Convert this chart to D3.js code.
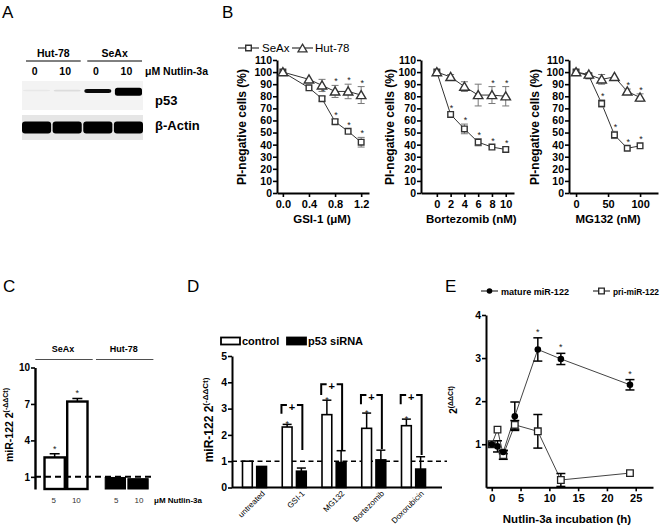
<!DOCTYPE html>
<html><head><meta charset="utf-8">
<script src="https://cdn.jsdelivr.net/npm/d3@7"></script>
<style>body{margin:0;background:#fff} svg{display:block} text{font-family:"Liberation Sans",Arial,sans-serif}</style>
</head><body><svg id="c" width="662" height="530"></svg>
<script>
// ================= DATA =================
// Panel A (western blot, relative band signal)
const blotLanes = ["0","10","0","10"];
const blotGroups = ["Hut-78","SeAx"];
const blotGroupLanes = [[0,1],[2,3]];
const p53Signal = [0.02,0.04,0.4,1.0];
const actinSignal = [1,1,1,1];

// Panel B
const gsiDose = [0,0.4,0.6,0.8,1.0,1.2];
const gsiSeAx = [100,87,78,59,51,42];
const gsiSeAxErr = [1,1,2,2,1,4];
const gsiHut = [100,94,89,84,84,81];
const gsiHutErr = [1,1,5,5,6,7];
const gsiSeAxStar = [0,0,1,1,1,1];
const gsiHutStar = [0,0,0,1,1,1];

const bortDose = [0,2,4,6,8,10];
const bortSeAx = [100,65,53,42,38,36];
const bortSeAxErr = [1,1,4,3,1,2];
const bortHut = [100,96,88,81,81,80];
const bortHutErr = [1,2,4,9,7,8];
const bortSeAxStar = [0,1,1,1,1,1];
const bortHutStar = [0,0,0,0,1,1];

const mgDose = [0,20,40,60,80,100];
const mgSeAx = [100,97,74,48,37,39];
const mgSeAxErr = [1,1,3,3,1,1];
const mgHut = [100,98,94,96,84,79];
const mgHutErr = [1,1,4,1,2,3];
const mgSeAxStar = [0,0,1,1,1,1];
const mgHutStar = [0,0,0,0,1,1];

// Panel C
const cGroups = ["SeAx","Hut-78"];
const cDoses = ["5","10"];
const cValues = [[2.6,7.2],[0.95,0.85]];
const cErr = [[0.3,0.25],[0,0]];
const cStar = [[1,1],[0,0]];
const cTicks = [1,4,7,10];

// Panel D
const dCategories = ["untreated","GSI-1","MG132","Bortezomib","Doxorubicin"];
const dControl = [1.0,2.3,2.77,2.25,2.35];
const dControlErr = [0,0.1,0.55,0.58,0.25];
const dSiRNA = [0.8,0.62,0.95,1.05,0.7];
const dSiRNAErr = [0.02,0.12,0.45,0.37,0.47];
const dStar = [0,1,1,1,1];
const dBracketTop = [null,3.14,3.93,3.52,3.52];
const dBracketLeft = [null,2.8,3.52,3.17,3.17];
const dBracketRight = [null,1.43,1.39,1.46,1.24];
const dTicks = [0,1,2,3,4,5];

// Panel E
const eTime = [0,1,2,4,8,12,24];
const eMature = [1.0,0.95,0.82,1.65,3.2,2.98,2.38];
const eMatureErr = [0,0.13,0.04,0.33,0.27,0.13,0.12];
const ePri = [1.0,1.34,0.75,1.45,1.3,0.17,0.33];
const ePriErr = [0,0.02,0.1,0.1,0.39,0.15,0.02];
const eStar = [0,0,0,0,1,1,1];
const eXTicks = [0,5,10,15,20,25];
const eYTicks = [1,2,3,4];

// ================= DRAW =================
const svg = d3.select("#c");
svg.append("rect").attr("width",662).attr("height",530).attr("fill","#fff");
const defs = svg.append("defs");
defs.append("filter").attr("id","blur").append("feGaussianBlur").attr("stdDeviation",0.7);

function letter(t,x,y){ svg.append("text").attr("x",x).attr("y",y).attr("font-size",17).text(t); }
letter("A",2,18); letter("B",222,18); letter("C",3,292); letter("D",187,292); letter("E",445,292);

function styleAxis(g, fs, bold, family){
  g.select(".domain").attr("stroke","#000").attr("stroke-width",2);
  g.selectAll(".tick line").attr("stroke","#000").attr("stroke-width",1.6);
  g.selectAll(".tick text").attr("font-size",fs).attr("font-weight",bold?"bold":"normal").attr("fill","#000")
    .attr("font-family", family || '"Liberation Sans", Arial, sans-serif');
}
function star(g,x,y,fs){ g.append("text").attr("x",x).attr("y",y).attr("text-anchor","middle").attr("font-size",fs||9).attr("fill","#222").text("*"); }
function rotLabel(x,y,main,sup,fs,sfs,weight){
  const t = svg.append("text").attr("transform",`translate(${x},${y}) rotate(-90)`).attr("text-anchor","middle")
    .attr("font-size",fs).attr("font-weight",weight||"bold");
  t.append("tspan").text(main);
  if(sup) t.append("tspan").attr("font-size",sfs).attr("dy",-fs*0.45).text(sup);
}
const fmtInt = d3.format("d");

// ---------- Panel A ----------
(function(){
  const g = svg.append("g");
  const lane = d3.scaleBand().domain(d3.range(blotLanes.length)).range([22,143]).paddingInner(0.05);
  g.append("rect").attr("x",22).attr("y",81).attr("width",121).attr("height",29).attr("fill","#f3f3f3");
  g.append("rect").attr("x",22).attr("y",115).attr("width",121).attr("height",25).attr("fill","#e6e6e6");
  const bands = g.append("g").attr("filter","url(#blur)");
  bands.selectAll(".p53").data(p53Signal).join("rect")
    .attr("x",(d,i)=>lane(i)+1).attr("width",lane.bandwidth()-2)
    .attr("y",(d,i)=>90.5+d*1.2-(1.5+6.5*d)/2).attr("height",d=>1.5+6.5*d).attr("rx",2.5)
    .attr("fill","#000").attr("opacity",d=>Math.min(1,d*2.4));
  bands.selectAll(".act").data(actinSignal).join("rect")
    .attr("x",(d,i)=>lane(i)).attr("width",lane.bandwidth())
    .attr("y",d=>127.5-6*d).attr("height",d=>12*d).attr("rx",3)
    .attr("fill","#050505");
  g.selectAll(".ln").data(blotLanes).join("text")
    .attr("x",(d,i)=>lane(i)+lane.bandwidth()/2-2).attr("y",75).attr("text-anchor","middle")
    .attr("font-size",10.5).attr("font-weight","bold").text(d=>d);
  blotGroups.forEach((name,gi)=>{
    const ls = blotGroupLanes[gi];
    const a = lane(ls[0])+4, b = lane(ls[ls.length-1])+lane.bandwidth()-1;
    g.append("line").attr("x1",a).attr("x2",b).attr("y1",61).attr("y2",61).attr("stroke","#000").attr("stroke-width",1);
    g.append("text").attr("x",(a+b)/2).attr("y",57).attr("text-anchor","middle").attr("font-size",10.5).attr("font-weight","bold").text(name);
  });
  g.append("text").attr("x",145).attr("y",75).attr("font-size",10.5).attr("font-weight","bold").text("\u03bcM Nutlin-3a");
  g.append("text").attr("x",155).attr("y",105).attr("font-size",13).attr("font-weight","bold").text("p53");
  g.append("text").attr("x",155).attr("y",130).attr("font-size",13).attr("font-weight","bold").text("\u03b2-Actin");
})();

// ---------- Panel B ----------
const bPanels = [
  {x0:277,xEnd:369,xDomain:[-0.09,1.32],xTicks:[0,0.4,0.8,1.2],fmt:".1f",title:"GSI-1 (\u03bcM)",yTitleX:246,
   dose:gsiDose,seax:gsiSeAx,seaxErr:gsiSeAxErr,hut:gsiHut,hutErr:gsiHutErr,seaxStar:gsiSeAxStar,hutStar:gsiHutStar},
  {x0:421,xEnd:514,xDomain:[-2.3,11.2],xTicks:[0,2,4,6,8,10],fmt:"d",title:"Bortezomib (nM)",yTitleX:394,
   dose:bortDose,seax:bortSeAx,seaxErr:bortSeAxErr,hut:bortHut,hutErr:bortHutErr,seaxStar:bortSeAxStar,hutStar:bortHutStar},
  {x0:569,xEnd:658,xDomain:[-11,128],xTicks:[0,50,100],fmt:"d",title:"MG132 (nM)",yTitleX:539,
   dose:mgDose,seax:mgSeAx,seaxErr:mgSeAxErr,hut:mgHut,hutErr:mgHutErr,seaxStar:mgSeAxStar,hutStar:mgHutStar}
];
const bY = d3.scaleLinear().domain([0,110]).range([193,60]);
const sqPath = s=>`M${-s},${-s}H${s}V${s}H${-s}Z`;
const triPath = s=>`M0,${-s}L${s*1.05},${s*0.8}L${-s*1.05},${s*0.8}Z`;
bPanels.forEach(p=>{
  const g = svg.append("g");
  const x = d3.scaleLinear().domain(p.xDomain).range([p.x0,p.xEnd]);
  const gy = g.append("g").attr("transform",`translate(${p.x0},0)`)
    .call(d3.axisLeft(bY).tickValues(d3.range(0,111,10)).tickSize(4).tickPadding(1).tickSizeOuter(0));
  styleAxis(gy,10.5,true);
  const gx = g.append("g").attr("transform",`translate(0,${bY(0)})`)
    .call(d3.axisBottom(x).tickValues(p.xTicks).tickFormat(d3.format(p.fmt)).tickSize(4).tickPadding(3).tickSizeOuter(0));
  styleAxis(gx,11,true);
  g.append("text").attr("x",(x(p.xTicks[0])+x(p.xTicks[p.xTicks.length-1]))/2).attr("y",223).attr("text-anchor","middle")
    .attr("font-size",11.5).attr("font-weight","bold").text(p.title);
  rotLabel(p.yTitleX,127,"PI-negative cells (%)",null,12,0,"bold");
  const line = d3.line().x((d,i)=>x(p.dose[i])).y(d=>bY(d));
  [[p.seax,p.seaxErr,p.seaxStar,"sq"],[p.hut,p.hutErr,p.hutStar,"tri"]].forEach(([vals,errs,stars,shape])=>{
    g.append("path").attr("d",line(vals)).attr("fill","none").attr("stroke","#333").attr("stroke-width",1);
    vals.forEach((v,i)=>{
      const cx = x(p.dose[i]);
      if(errs[i]>1){
        g.append("line").attr("x1",cx).attr("x2",cx).attr("y1",bY(v-errs[i])).attr("y2",bY(v+errs[i])).attr("stroke","#777").attr("stroke-width",1);
        [v-errs[i],v+errs[i]].forEach(e=>g.append("line").attr("x1",cx-3.5).attr("x2",cx+3.5).attr("y1",bY(e)).attr("y2",bY(e)).attr("stroke","#777").attr("stroke-width",1));
      }
    });
    g.selectAll(null).data(vals).join("path")
      .attr("transform",(d,i)=>`translate(${x(p.dose[i])},${bY(d)})`)
      .attr("d",shape==="sq"?sqPath(2.8):triPath(4.5))
      .attr("fill","#fff").attr("stroke","#333").attr("stroke-width",1.4);
    vals.forEach((v,i)=>{ if(stars[i]){ const top = bY(v+Math.max(errs[i],2)); star(g,x(p.dose[i])+1,top-1,9); }});
  });
});
// Legend B
(function(){
  const g = svg.append("g");
  g.append("line").attr("x1",238).attr("x2",259).attr("y1",48).attr("y2",48).attr("stroke","#333").attr("stroke-width",1.2);
  g.append("path").attr("transform","translate(248.5,48)").attr("d",sqPath(2.8)).attr("fill","#fff").attr("stroke","#333").attr("stroke-width",1.4);
  g.append("text").attr("x",262).attr("y",52).attr("font-size",11.5).text("SeAx");
  g.append("line").attr("x1",292).attr("x2",313).attr("y1",48).attr("y2",48).attr("stroke","#333").attr("stroke-width",1.2);
  g.append("path").attr("transform","translate(302.5,48.5)").attr("d",triPath(4.3)).attr("fill","#fff").attr("stroke","#333").attr("stroke-width",1.3);
  g.append("text").attr("x",315).attr("y",52).attr("font-size",11.5).text("Hut-78");
})();

// ---------- Panel C ----------
(function(){
  const g = svg.append("g");
  const y = d3.scaleLinear().domain([0,10]).range([489,367.5]);
  const gx = d3.scaleBand().domain(cGroups).range([35,157.7]).paddingInner(0.252).paddingOuter(0.137);
  const ix = d3.scaleBand().domain(cDoses).range([0,gx.bandwidth()]).paddingInner(0);
  cGroups.forEach((grp,gi)=>{
    const a = gx(grp), bw = gx.bandwidth();
    g.append("line").attr("x1",a-8).attr("x2",a+bw+4).attr("y1",359.5).attr("y2",359.5).attr("stroke","#222").attr("stroke-width",0.8);
    g.append("text").attr("x",a+bw/2-3).attr("y",352).attr("text-anchor","middle").attr("font-size",9).attr("font-weight","bold").text(grp);
    cDoses.forEach((d,di)=>{
      const v = cValues[gi][di], e = cErr[gi][di], bx = a+ix(d), w = ix.bandwidth();
      const filled = gi===1;
      if(e>0){
        g.append("line").attr("x1",bx+w/2).attr("x2",bx+w/2).attr("y1",y(v)).attr("y2",y(v+e)).attr("stroke","#000").attr("stroke-width",1.5);
        g.append("line").attr("x1",bx+w/2-5).attr("x2",bx+w/2+5).attr("y1",y(v+e)).attr("y2",y(v+e)).attr("stroke","#000").attr("stroke-width",1.5);
      }
      g.append("rect").attr("x",bx+1.2).attr("y",y(v)).attr("width",w-2.4).attr("height",y(0)-y(v))
        .attr("fill",filled?"#000":"#fff").attr("stroke","#000").attr("stroke-width",filled?1:2.4);
      if(cStar[gi][di]) star(g,bx+w/2,y(v+e)-2,9);
      g.append("text").attr("x",bx+w/2+(filled?1:-1)).attr("y",503).attr("text-anchor","middle").attr("font-size",8).attr("fill","#333").text(d);
    });
  });
  g.append("text").attr("x",154).attr("y",503).attr("font-size",8).attr("font-weight","bold").text("\u03bcM Nutlin-3a");
  g.append("line").attr("x1",35).attr("x2",153).attr("y1",y(1)).attr("y2",y(1)).attr("stroke","#000").attr("stroke-width",2).attr("stroke-dasharray","6,4");
  const ga = g.append("g").attr("transform","translate(35,0)").call(d3.axisLeft(y).tickValues(cTicks).tickFormat(fmtInt).tickSize(4).tickPadding(1).tickSizeOuter(0));
  styleAxis(ga,10,true,'"Liberation Serif", "Times New Roman", serif');
  ga.select(".domain").attr("stroke-width",2.4);
  rotLabel(13,425,"miR-122 2","(-\u0394\u0394Ct)",10.5,7,"bold");
})();

// ---------- Panel D ----------
(function(){
  const g = svg.append("g");
  const y = d3.scaleLinear().domain([0,5]).range([487.5,356]);
  const gx = d3.scaleBand().domain(dCategories).range([232,436]).paddingInner(0.356).paddingOuter(0.244);
  const ix = d3.scaleBand().domain(["control","p53 siRNA"]).range([0,gx.bandwidth()]).paddingInner(0.2);
  g.append("line").attr("x1",232).attr("x2",447).attr("y1",y(1)).attr("y2",y(1)).attr("stroke","#000").attr("stroke-width",1.6).attr("stroke-dasharray","5,3.5");
  dCategories.forEach((c,i)=>{
    const a = gx(c), w = ix.bandwidth();
    [[dControl[i],dControlErr[i],"control",false],[dSiRNA[i],dSiRNAErr[i],"p53 siRNA",true]].forEach(([v,e,k,filled])=>{
      const bx = a+ix(k);
      if(e>0.03){
        g.append("line").attr("x1",bx+w/2).attr("x2",bx+w/2).attr("y1",y(v)).attr("y2",y(v+e)).attr("stroke","#000").attr("stroke-width",1.5);
        g.append("line").attr("x1",bx+w/2-4.5).attr("x2",bx+w/2+4.5).attr("y1",y(v+e)).attr("y2",y(v+e)).attr("stroke","#000").attr("stroke-width",1.5);
      }
      g.append("rect").attr("x",bx+0.8).attr("y",y(v)).attr("width",w-1.6).attr("height",y(0)-y(v))
        .attr("fill",filled?"#000":"#fff").attr("stroke","#000").attr("stroke-width",1.6);
    });
    if(dStar[i]) star(g,a+ix("control")+w/2,y(dControl[i]+dControlErr[i])+3,9);
    if(dBracketTop[i]!=null){
      const lx = a+ix("control"), rx = a+ix("p53 siRNA")+w/2+1, mid=(lx+rx)/2, ty=y(dBracketTop[i]);
      const st = {stroke:"#000","stroke-width":2,fill:"none"};
      const p1 = g.append("path").attr("d",`M${lx},${y(dBracketLeft[i])}V${ty}H${mid-5}`);
      const p2 = g.append("path").attr("d",`M${mid+5},${ty}H${rx}V${y(dBracketRight[i])}`);
      [p1,p2].forEach(p=>Object.entries(st).forEach(([k,v])=>p.attr(k,v)));
      g.append("text").attr("x",mid).attr("y",ty+6).attr("text-anchor","middle").attr("font-size",11).attr("font-weight","bold").text("+");
    }
    g.append("text").attr("transform",`translate(${a+gx.bandwidth()/2+11},${494}) rotate(-45)`).attr("text-anchor","end")
      .attr("font-size",8).text(c);
  });
  g.append("line").attr("x1",232).attr("x2",442).attr("y1",y(0)).attr("y2",y(0)).attr("stroke","#000").attr("stroke-width",2);
  const ga = g.append("g").attr("transform","translate(232,0)").call(d3.axisLeft(y).tickValues(dTicks).tickFormat(fmtInt).tickSize(4).tickPadding(1).tickSizeOuter(0));
  styleAxis(ga,10.5,true);
  rotLabel(213,420,"miR-122 2","(-\u0394\u0394Ct)",12,8,"bold");
  // legend
  g.append("rect").attr("x",221).attr("y",337.5).attr("width",19).attr("height",7).attr("fill","#fff").attr("stroke","#000").attr("stroke-width",1.8);
  g.append("text").attr("x",242).attr("y",345).attr("font-size",11).attr("font-weight","bold").text("control");
  g.append("rect").attr("x",287).attr("y",337.5).attr("width",19).attr("height",7).attr("fill","#000").attr("stroke","#000").attr("stroke-width",1.8);
  g.append("text").attr("x",308).attr("y",345).attr("font-size",11).attr("font-weight","bold").text("p53 siRNA");
})();

// ---------- Panel E ----------
(function(){
  const g = svg.append("g");
  const x = d3.scaleLinear().domain([-1,28]).range([486,653]);
  const y = d3.scaleLinear().domain([0,4]).range([487.3,315]);
  const line = d3.line().x((d,i)=>x(eTime[i])).y(d=>y(d));
  function errBars(vals,errs){
    vals.forEach((v,i)=>{
      if(errs[i]<0.03) return;
      const cx = x(eTime[i]);
      g.append("line").attr("x1",cx).attr("x2",cx).attr("y1",y(v-errs[i])).attr("y2",y(v+errs[i])).attr("stroke","#000").attr("stroke-width",1.5);
      [v-errs[i],v+errs[i]].forEach(e=>g.append("line").attr("x1",cx-4.5).attr("x2",cx+4.5).attr("y1",y(e)).attr("y2",y(e)).attr("stroke","#000").attr("stroke-width",1.5));
    });
  }
  g.append("path").attr("d",line(ePri)).attr("fill","none").attr("stroke","#444").attr("stroke-width",1);
  g.append("path").attr("d",line(eMature)).attr("fill","none").attr("stroke","#444").attr("stroke-width",1);
  errBars(ePri,ePriErr); errBars(eMature,eMatureErr);
  g.selectAll(".pri").data(ePri).join("path").attr("transform",(d,i)=>`translate(${x(eTime[i])},${y(d)})`)
    .attr("d",sqPath(3.3)).attr("fill","#fff").attr("stroke","#222").attr("stroke-width",1.3);
  g.selectAll(".mat").data(eMature).join("circle").attr("cx",(d,i)=>x(eTime[i])).attr("cy",d=>y(d)).attr("r",3.3).attr("fill","#000");
  eMature.forEach((v,i)=>{ if(eStar[i]) star(g,x(eTime[i]),y(v+eMatureErr[i])-3,9); });
  const gx = g.append("g").attr("transform",`translate(0,${y(0)})`)
    .call(d3.axisBottom(x).tickValues(eXTicks).tickFormat(fmtInt).tickSize(4).tickPadding(3).tickSizeOuter(0));
  styleAxis(gx,11,true);
  const gy = g.append("g").attr("transform","translate(486,0)")
    .call(d3.axisLeft(y).tickValues(eYTicks).tickFormat(fmtInt).tickSize(4).tickPadding(1).tickSizeOuter(0));
  styleAxis(gy,10.5,true);
  g.append("text").attr("x",567).attr("y",523).attr("text-anchor","middle").attr("font-size",11.5).attr("font-weight","bold").text("Nutlin-3a incubation (h)");
  rotLabel(457,400,"2","(\u0394\u0394Ct)",10,7,"bold");
  // legend
  g.append("line").attr("x1",481).attr("x2",498).attr("y1",291).attr("y2",291).attr("stroke","#333").attr("stroke-width",1.2);
  g.append("circle").attr("cx",489.5).attr("cy",291).attr("r",2.8).attr("fill","#000");
  g.append("text").attr("x",501).attr("y",294.5).attr("font-size",9).attr("font-weight","bold").attr("textLength",68).attr("lengthAdjust","spacingAndGlyphs").text("mature miR-122");
  g.append("line").attr("x1",593).attr("x2",610).attr("y1",291).attr("y2",291).attr("stroke","#333").attr("stroke-width",1.2);
  g.append("path").attr("transform","translate(601.5,291)").attr("d",sqPath(2.8)).attr("fill","#fff").attr("stroke","#222").attr("stroke-width",1.3);
  g.append("text").attr("x",613).attr("y",294.5).attr("font-size",9).attr("font-weight","bold").attr("textLength",46).attr("lengthAdjust","spacingAndGlyphs").text("pri-miR-122");
})();
</script></body></html>
